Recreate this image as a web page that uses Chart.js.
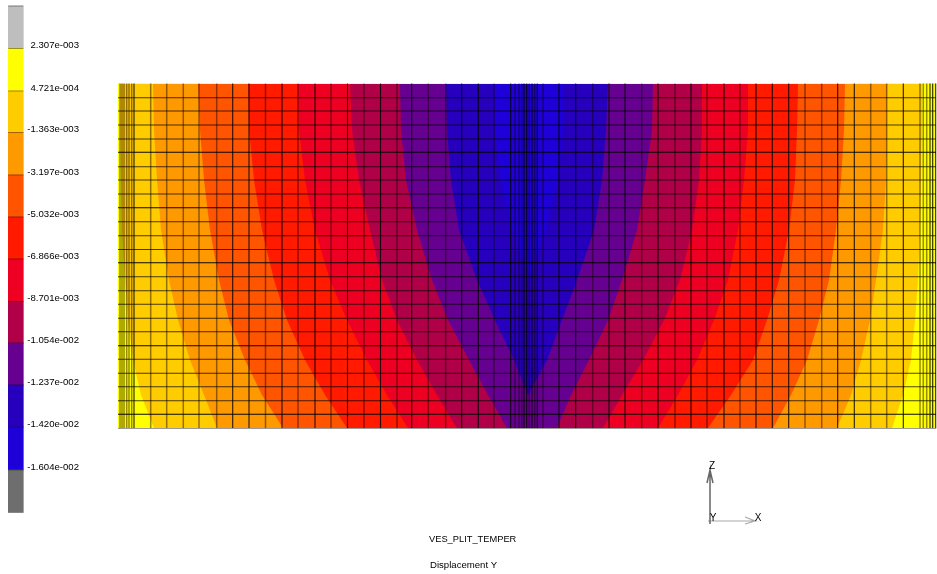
<!DOCTYPE html>
<html>
<head>
<meta charset="utf-8">
<title>VES_PLIT_TEMPER</title>
<script src="https://cdn.jsdelivr.net/npm/chart.js@4"></script>
<style>
html, body { margin: 0; padding: 0; background: #fff; }
canvas { display: block; filter: blur(0.45px); }
</style>
</head>
<body>
<canvas id="plot" width="937" height="574"></canvas>
<script>
// colour bar, top to bottom
const BAR_LABELS = ["2.307e-003", "4.721e-004", "-1.363e-003", "-3.197e-003", "-5.032e-003", "-6.866e-003",
    "-8.701e-003", "-1.054e-002", "-1.237e-002", "-1.420e-002", "-1.604e-002"];
const BAR_EDGES = [6, 48.5, 91, 132.5, 175, 217, 259, 301.5, 343, 385, 427, 470, 512.5];
const BAR_COLORS = ["#bebebe", "#ffff00", "#ffcc00", "#ff9900", "#ff5500", "#ff1a00",
    "#ee0022", "#b00048", "#660090", "#2600bc", "#1e00d8", "#6e6e6e"];

// contour boundaries, x read at each of these rows
const ROWS = [84, 130, 180, 230, 280, 320, 360, 395, 428];
const L_GOLD = [120, 120, 121, 122, 125, 128, 133, 141, 154];
const R_GOLD = [922, 922, 921, 920, 918, 915, 911, 903, 892];
const L_ORANGE = [153, 154, 157, 161, 169, 178, 190, 204, 217];
const R_ORANGE = [887, 887, 886, 883, 876, 870, 861, 851, 837];
const L_ORANGERED = [198, 200, 204, 210, 219, 229, 245, 262, 283];
const R_ORANGERED = [845, 844, 841, 836, 829, 819, 807, 791, 773];
const L_BRIGHT = [248, 249, 254, 262, 274, 287, 305, 325, 347];
const R_BRIGHT = [798, 797, 795, 789, 779, 767, 753, 731, 708];
const L_RED = [298, 299, 305, 315, 330, 347, 367, 387, 408];
const R_RED = [748, 748, 744, 738, 728, 714, 697, 678, 658];
const L_CRIMSON = [350, 352, 359, 370, 382, 397, 417, 437, 457];
const R_CRIMSON = [702, 702, 699, 692, 680, 664, 643, 622, 603];
const L_PURPLE = [400, 401, 406, 417, 432, 448, 469, 488, 507];
const R_PURPLE = [653, 652, 645, 637, 622, 608, 589, 571, 557];
const L_DARKBLUE = [446, 447, 451, 459, 477, 495, 514, 528, 528];
const R_DARKBLUE = [608, 606, 602, 594, 577, 562, 547, 528, 528];
const L_BLUE = [494, 495, 500, 512, 528, 528, 528, 528, 528];
const R_BLUE = [564, 563, 558, 546, 528, 528, 528, 528, 528];

// mesh
const MESH_LEFT = 118, MESH_RIGHT = 936, MESH_TOP = 83.5, MESH_BOTTOM = 428.5;
const MESH_X_SOFT = [120, 122, 124, 126.7, 129, 131.7, 150.7, 166.7, 183.3, 199, 216.7, 265.5, 298, 331, 364, 397,
    428.3, 445.7, 494, 515, 519, 521.7, 529.3, 534.7, 543, 592.7, 641.7, 675, 707, 740, 805, 821.7, 870.7, 886.7,
    920, 923.3, 926.7];
const MESH_X_STRONG = [134, 232.7, 249, 282, 315, 347.5, 380.5, 411.7, 461.7, 478.3, 510.7, 524, 526.7, 532, 537.3,
    559, 575.7, 609, 625, 658, 691, 724, 756, 772.3, 788.7, 837.7, 854.3, 903.3, 930, 932.7, 935.7];
const MESH_Y_SOFT = [97.7, 111, 125, 139, 166.7, 180, 194, 221.7, 235.7, 249.5, 276.7, 290.7, 304.3, 318.3, 331.7,
    359.3, 373.3, 386.7, 400.7];
const MESH_Y_STRONG = [152.3, 207.7, 262.7, 345.7, 414.3];

// triad
const AXIS_Z_X = [710, 710, 707, 710, 713];
const AXIS_Z_Y = [524, 470, 483, 470, 483];
const AXIS_X_X = [708, 755, 745, 755, 745];
const AXIS_X_Y = [521, 521, 517, 521, 524];

const TITLE_TEXTS = ["VES_PLIT_TEMPER", "Displacement Y"];

function band(left, right) {
    const pts = [];
    for (let i = 0; i < ROWS.length; i++) {
        pts.push({ x: left[i], y: ROWS[i] });
    }
    for (let i = ROWS.length - 1; i >= 0; i--) {
        pts.push({ x: right[i], y: ROWS[i] });
    }
    return pts;
}

function vLines(xs, y0, y1) {
    let pts = [];
    xs.forEach(function (x) {
        pts.push({ x: x, y: y0 }, { x: x, y: y1 }, { x: null, y: null });
    });
    return pts;
}

function hLines(ys, x0, x1) {
    let pts = [];
    ys.forEach(function (y) {
        pts.push({ x: x0, y: y }, { x: x1, y: y }, { x: null, y: null });
    });
    return pts;
}

function zip(xs, ys) {
    return xs.map(function (x, i) { return { x: x, y: ys[i] }; });
}

function line(data, color, width) {
    return { type: "line", data: data, borderColor: color, borderWidth: width, fill: false, spanGaps: false, tension: 0 };
}

function shape(data, color) {
    return { type: "line", data: data, borderColor: color, borderWidth: 0, backgroundColor: color, fill: "shape", tension: 0 };
}

const barData = BAR_COLORS.map(function (c, i) {
    return { x: 15.8, y: [BAR_EDGES[i], BAR_EDGES[i + 1]] };
});

// first dataset ends up on top
const datasets = [
    line(zip(AXIS_Z_X, AXIS_Z_Y), "#666666", 1.5),
    line(zip(AXIS_X_X, AXIS_X_Y), "#a8a8a8", 1.2),
    line(hLines(BAR_EDGES.slice(0, 12), 8.3, 23.3), "rgba(40,20,0,0.55)", 0.8),
    line(hLines([MESH_BOTTOM], MESH_LEFT, MESH_RIGHT), "#9a9a9a", 1),
    line(hLines(MESH_Y_STRONG, MESH_LEFT, MESH_RIGHT), "rgba(0,0,0,0.95)", 1.1),
    line(vLines(MESH_X_STRONG, MESH_TOP, MESH_BOTTOM), "rgba(0,0,0,0.85)", 1.1),
    line(hLines(MESH_Y_SOFT, MESH_LEFT, MESH_RIGHT), "rgba(0,0,0,0.72)", 1.1),
    line(vLines(MESH_X_SOFT, MESH_TOP, MESH_BOTTOM), "rgba(20,0,0,0.45)", 1.5),
    shape(band(L_BLUE, R_BLUE), BAR_COLORS[10]),
    shape(band(L_DARKBLUE, R_DARKBLUE), BAR_COLORS[9]),
    shape(band(L_PURPLE, R_PURPLE), BAR_COLORS[8]),
    shape(band(L_CRIMSON, R_CRIMSON), BAR_COLORS[7]),
    shape(band(L_RED, R_RED), BAR_COLORS[6]),
    shape(band(L_BRIGHT, R_BRIGHT), BAR_COLORS[5]),
    shape(band(L_ORANGERED, R_ORANGERED), BAR_COLORS[4]),
    shape(band(L_ORANGE, R_ORANGE), BAR_COLORS[3]),
    shape(band(L_GOLD, R_GOLD), BAR_COLORS[2]),
    shape(zip([MESH_LEFT, MESH_LEFT, MESH_RIGHT, MESH_RIGHT], [MESH_TOP, MESH_BOTTOM, MESH_BOTTOM, MESH_TOP]), BAR_COLORS[1]),
    { type: "bar", data: barData, backgroundColor: BAR_COLORS, barThickness: 15, borderWidth: 0 }
];

const textPlugin = {
    id: "plotText",
    afterDraw: function (chart) {
        const ctx = chart.ctx, xs = chart.scales.x, ys = chart.scales.y;
        ctx.save();
        ctx.fillStyle = "#000000";
        ctx.font = "9.6px 'Liberation Sans'";
        ctx.textBaseline = "middle";
        ctx.textAlign = "right";
        BAR_LABELS.forEach(function (t, i) {
            ctx.fillText(t, xs.getPixelForValue(79), ys.getPixelForValue(BAR_EDGES[i + 1] - 3));
        });
        ctx.textAlign = "left";
        ctx.fillText(TITLE_TEXTS[1], xs.getPixelForValue(430), ys.getPixelForValue(565));
        ctx.font = "9.3px 'Liberation Sans'";
        ctx.fillText(TITLE_TEXTS[0], xs.getPixelForValue(429), ys.getPixelForValue(539));
        ctx.font = "10px 'Liberation Sans'";
        ctx.textAlign = "center";
        ctx.fillText("Z", xs.getPixelForValue(712), ys.getPixelForValue(466));
        ctx.fillText("Y", xs.getPixelForValue(713), ys.getPixelForValue(518));
        ctx.fillText("X", xs.getPixelForValue(758), ys.getPixelForValue(518));
        ctx.restore();
    }
};

new Chart(document.getElementById("plot"), {
    type: "line",
    data: { datasets: datasets },
    plugins: [textPlugin],
    options: {
        responsive: false,
        animation: false,
        layout: { padding: 0 },
        elements: { point: { radius: 0 } },
        plugins: {
            legend: { display: false },
            tooltip: { enabled: false }
        },
        scales: {
            x: { type: "linear", display: false, offset: false, min: 0, max: 937 },
            y: { type: "linear", display: false, min: 0, max: 574, reverse: true }
        }
    }
});
</script>
</body>
</html>
